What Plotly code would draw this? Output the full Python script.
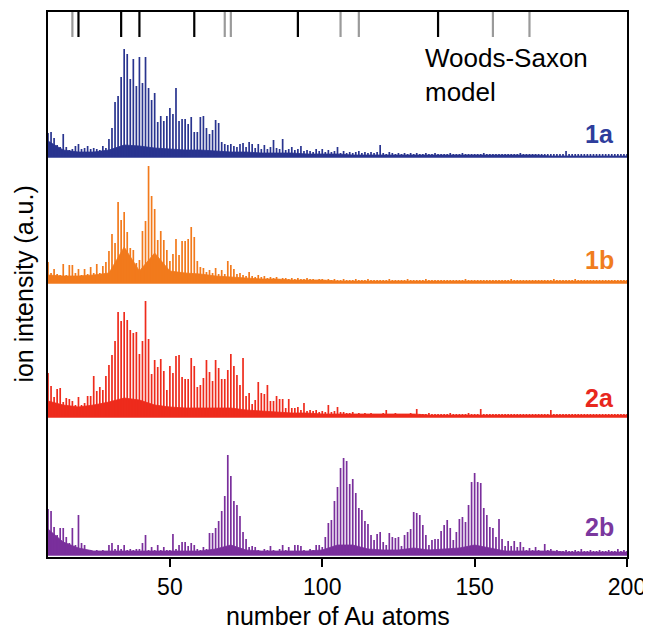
import plotly.graph_objects as go

# ---------------- data ----------------
N_START = 10
N_END = 200
atoms = list(range(N_START, N_END + 1))

peaks_1a = [
    24, 25, 19, 12, 10, 23, 10, 7, 8, 11,
    13, 8, 9, 11, 8, 9, 8, 7, 11, 9,
    18, 29, 55, 61, 80, 108, 103, 78, 98, 71,
    100, 74, 100, 69, 57, 64, 35, 41, 36, 41,
    49, 43, 69, 36, 38, 38, 33, 40, 25, 25,
    40, 41, 29, 23, 27, 37, 34, 15, 13, 12,
    13, 11, 10, 13, 14, 10, 15, 13, 9, 13,
    8, 12, 8, 10, 17, 9, 8, 18, 7, 8,
    10, 7, 8, 11, 6, 7, 6, 5, 8, 6,
    8, 5, 7, 5, 6, 10, 4, 6, 4, 5,
    4, 5, 6, 4, 5, 4, 5, 4, 5, 12,
    4, 3, 5, 4, 3, 4, 3, 4, 3, 4,
    3, 4, 3, 3, 4, 3, 3, 4, 3, 3,
    3, 3, 4, 3, 3, 3, 4, 3, 3, 3,
    3, 3, 3, 4, 3, 3, 3, 3, 3, 3,
    3, 3, 3, 3, 3, 4, 3, 3, 3, 3,
    3, 3, 3, 3, 3, 3, 3, 3, 3, 3,
    6, 3, 3, 3, 3, 3, 3, 3, 3, 3,
    3, 3, 3, 3, 3, 3, 3, 3, 3, 3,
    3,
]

peaks_1b = [
    21, 10, 14, 9, 8, 19, 8, 18, 18, 10,
    14, 8, 14, 9, 16, 10, 19, 10, 17, 21,
    32, 49, 40, 81, 63, 71, 51, 35, 33, 20,
    23, 52, 62, 117, 87, 74, 43, 52, 43, 33,
    22, 29, 44, 28, 42, 42, 44, 56, 46, 22,
    16, 15, 11, 13, 10, 15, 9, 13, 9, 22,
    18, 14, 9, 10, 8, 7, 11, 7, 6, 8,
    6, 7, 5, 6, 5, 6, 4, 5, 5, 4,
    5, 4, 5, 4, 4, 5, 4, 4, 3, 4,
    4, 3, 4, 3, 4, 3, 3, 4, 3, 3,
    3, 4, 3, 3, 3, 4, 3, 3, 3, 3,
    3, 3, 4, 3, 3, 3, 3, 3, 4, 3,
    3, 3, 3, 3, 4, 3, 3, 3, 3, 3,
    3, 3, 3, 3, 3, 3, 3, 4, 3, 3,
    3, 3, 3, 3, 3, 3, 3, 3, 3, 3,
    3, 3, 4, 3, 3, 3, 3, 3, 3, 3,
    3, 3, 3, 3, 3, 3, 4, 3, 3, 3,
    3, 3, 3, 4, 3, 3, 3, 3, 3, 3,
    3, 3, 3, 3, 3, 3, 3, 3, 3, 3,
    3,
]

peaks_2a = [
    44, 31, 20, 28, 29, 15, 19, 18, 16, 12,
    20, 12, 14, 21, 21, 41, 26, 30, 27, 41,
    52, 62, 76, 105, 96, 105, 97, 87, 84, 85,
    63, 76, 116, 78, 43, 57, 50, 58, 46, 27,
    51, 44, 61, 62, 40, 38, 38, 59, 51, 30,
    32, 39, 57, 45, 36, 57, 49, 38, 38, 47,
    63, 51, 42, 32, 59, 21, 24, 13, 17, 35,
    24, 23, 32, 16, 16, 21, 18, 18, 9, 18,
    9, 9, 10, 7, 14, 6, 7, 6, 7, 5,
    6, 5, 12, 5, 6, 10, 5, 5, 4, 4,
    5, 3, 4, 3, 4, 3, 4, 3, 3, 3,
    4, 7, 3, 3, 4, 3, 3, 3, 3, 4,
    3, 8, 3, 3, 3, 4, 3, 3, 3, 3,
    3, 3, 4, 3, 3, 3, 3, 3, 4, 3,
    3, 3, 8, 3, 3, 3, 3, 3, 3, 3,
    3, 3, 3, 3, 3, 3, 3, 3, 3, 3,
    3, 3, 3, 3, 3, 7, 3, 3, 3, 3,
    3, 3, 3, 3, 3, 3, 3, 3, 3, 3,
    3, 3, 3, 3, 3, 3, 3, 3, 3, 3,
    3,
]

peaks_2b = [
    46, 44, 28, 20, 27, 27, 18, 12, 27, 10,
    40, 12, 10, 5, 5, 4, 5, 4, 5, 4,
    10, 12, 6, 10, 6, 10, 5, 6, 5, 6,
    6, 12, 20, 5, 8, 5, 10, 5, 8, 5,
    5, 21, 6, 10, 13, 13, 9, 12, 10, 6,
    5, 8, 6, 22, 22, 27, 34, 44, 59, 100,
    79, 54, 50, 39, 23, 16, 8, 9, 8, 5,
    4, 6, 5, 9, 5, 4, 6, 10, 5, 8,
    4, 10, 10, 9, 5, 4, 6, 5, 10, 10,
    8, 18, 32, 35, 54, 68, 87, 97, 94, 71,
    76, 62, 47, 45, 34, 31, 20, 15, 21, 23,
    13, 10, 22, 18, 17, 18, 9, 20, 23, 26,
    43, 42, 40, 30, 20, 10, 15, 16, 16, 24,
    30, 35, 27, 15, 23, 36, 38, 33, 50, 73,
    82, 73, 72, 47, 40, 28, 27, 18, 36, 16,
    9, 14, 9, 14, 8, 13, 8, 5, 7, 5,
    8, 5, 4, 11, 5, 6, 4, 5, 4, 4,
    5, 4, 4, 5, 4, 6, 4, 4, 5, 4,
    4, 5, 4, 4, 5, 4, 4, 6, 4, 5,
    4,
]

# dense background level, one value every 5 atoms (10, 15, ..., 200)
floor_atoms = list(range(10, 201, 5))
floor_1a = [16, 7, 5, 5, 7, 12, 11, 9, 8, 7, 7, 6, 5, 5, 4, 4, 4, 3, 3, 3,
            2, 2, 2, 2, 2, 2, 2, 2, 2, 2, 2, 2, 2, 1, 1, 1, 1, 1, 1]
floor_1b = [8, 7, 7, 8, 10, 36, 12, 30, 12, 10, 9, 7, 6, 5, 4, 4, 3, 3, 3, 2,
            2, 2, 2, 2, 2, 2, 2, 2, 2, 2, 2, 2, 2, 2, 2, 2, 2, 2, 2]
floor_2a = [16, 12, 10, 12, 15, 19, 17, 12, 10, 9, 9, 9, 9, 7, 6, 5, 4, 4, 3, 3,
            3, 3, 3, 3, 3, 2, 2, 2, 2, 2, 2, 2, 2, 2, 2, 2, 2, 2, 2]
floor_2b = [26, 13, 7, 4, 4, 4, 4, 4, 4, 4, 4, 6, 10, 5, 4, 4, 4, 4, 5, 10,
            10, 6, 5, 5, 7, 5, 6, 7, 10, 7, 4, 4, 4, 4, 3, 3, 3, 3, 3]

series_names = ["1a", "1b", "2a", "2b"]
series_offsets = [400, 274, 140, 2]
series_colors = ["#29348f", "#f27a1c", "#ee2b1c", "#7a2f9c"]
label_colors = ["#2e3d9c", "#f07d1e", "#e8281e", "#7b389e"]
series_peaks = [peaks_1a, peaks_1b, peaks_2a, peaks_2b]
series_floors = [floor_1a, floor_1b, floor_2a, floor_2b]
label_y = [423, 297, 159, 30]

# Woods-Saxon shell closures
ws_black = [20, 34, 40, 58, 92, 138]
ws_gray = [18, 68, 70, 106, 112, 156, 168]
WS_BOTTOM, WS_TOP = 520, 545

xticks = [50, 100, 150, 200]

# ---------------- figure ----------------
fig = go.Figure()

for name, off, col, pk, fl in zip(series_names, series_offsets, series_colors,
                                  series_peaks, series_floors):
    fig.add_trace(go.Scatter(x=floor_atoms, y=[off] * len(floor_atoms), mode="lines",
                             line=dict(width=0, color=col), hoverinfo="skip",
                             showlegend=False))
    fig.add_trace(go.Scatter(x=floor_atoms, y=[off + v for v in fl], mode="lines",
                             line=dict(width=0.8, color=col), fill="tonexty",
                             fillcolor=col, hoverinfo="skip", showlegend=False))
    xs, ys = [], []
    for n, h in zip(atoms, pk):
        xs += [n, n, None]
        ys += [off, off + h, None]
    fig.add_trace(go.Scatter(x=xs, y=ys, mode="lines", name=name,
                             line=dict(width=1.7, color=col), showlegend=False))
    fig.add_trace(go.Scatter(x=[N_START, N_END], y=[off, off], mode="lines",
                             line=dict(width=1.4, color=col), hoverinfo="skip",
                             showlegend=False))

for group, col in ((ws_gray, "#9a9a9a"), (ws_black, "#000000")):
    xs, ys = [], []
    for n in group:
        xs += [n, n, None]
        ys += [WS_BOTTOM, WS_TOP, None]
    fig.add_trace(go.Scatter(x=xs, y=ys, mode="lines",
                             line=dict(width=2.2, color=col), showlegend=False,
                             hoverinfo="skip"))

for name, ly, lc in zip(series_names, label_y, label_colors):
    fig.add_annotation(x=0.981, xref="paper", y=ly, yref="y", text="<b>%s</b>" % name,
                       showarrow=False, xanchor="right", yanchor="middle",
                       font=dict(size=25, color=lc, family="Liberation Sans"))

fig.add_annotation(x=0.648, xref="paper", y=0.946, yref="paper",
                   text="Woods-Saxon<br>model", showarrow=False, align="left",
                   xanchor="left", yanchor="top",
                   font=dict(size=26, color="black", family="Liberation Sans"))

# axis titles
fig.add_annotation(x=0.5, xref="paper", y=-0.108, yref="paper",
                   text="number of Au atoms", showarrow=False,
                   xanchor="center", yanchor="middle",
                   font=dict(size=25, color="black", family="Liberation Sans"))
fig.add_annotation(x=-0.043, xref="paper", y=0.5, yref="paper",
                   text="ion intensity (a.u.)", showarrow=False, textangle=-90,
                   xanchor="center", yanchor="middle",
                   font=dict(size=25, color="black", family="Liberation Sans"))

# the page adds an 8 px body margin, so margins are reduced on the top/left
fig.update_layout(
    width=651, height=630,
    margin=dict(l=40, r=32, t=4, b=81),
    paper_bgcolor="white", plot_bgcolor="white",
    font=dict(family="Liberation Sans", size=23, color="black"),
    xaxis=dict(range=[N_START, N_END], tickvals=xticks, ticks="outside", ticklen=8,
               tickwidth=2, tickcolor="black", showline=True, linewidth=2,
               linecolor="black", mirror=True, showgrid=False, zeroline=False,
               tickfont=dict(size=23), automargin=False),
    yaxis=dict(range=[0, 545], showticklabels=False, ticks="", showline=True,
               linewidth=2, linecolor="black", mirror=True, showgrid=False,
               zeroline=False, automargin=False),
)

fig.write_html("out.html")
